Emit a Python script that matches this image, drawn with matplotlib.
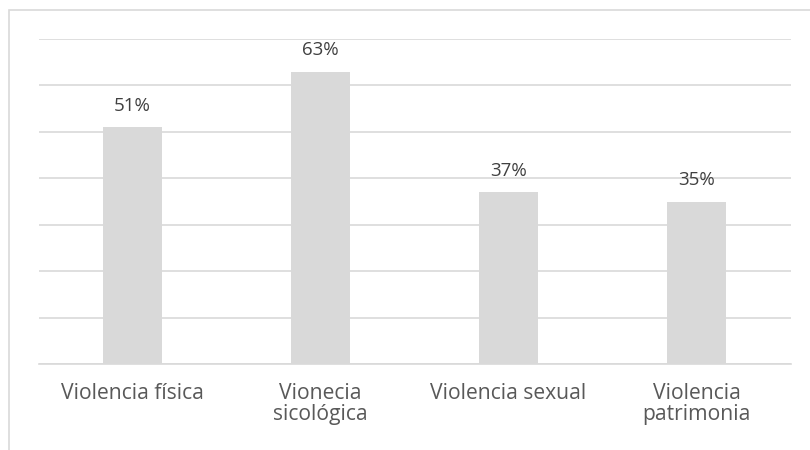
import matplotlib.pyplot as plt
from matplotlib.patches import Rectangle

# 数据
categories = ["Violencia física", "Vionecia\nsicológica", "Violencia sexual", "Violencia\npatrimonia"]
values = [51, 63, 37, 35]
value_labels = ["51%", "63%", "37%", "35%"]

plt.rcParams['font.family'] = ['Open Sans', 'DejaVu Sans']

fig = plt.figure(figsize=(8.1, 4.5), dpi=100)
ax = fig.add_axes([38.5 / 810, 1 - 364 / 450, 752 / 810, 325 / 450])

x = range(len(categories))
ax.bar(x, values, width=0.314, color='#d9d9d9', zorder=2)

for xi, v, lab in zip(x, values, value_labels):
    ax.annotate(lab, (xi, v), xytext=(0, 9), textcoords='offset points',
                ha='center', va='bottom', fontsize=13.5, color='#404040')

ax.set_xlim(-0.5, len(categories) - 0.5)
ax.set_ylim(0, 70)
ax.set_yticks(range(0, 71, 10))
ax.yaxis.grid(True, color='#d9d9d9', linewidth=1.2, zorder=0)
ax.tick_params(axis='y', left=False, labelleft=False)
ax.tick_params(axis='x', length=0, pad=13.5, labelsize=15.2, labelcolor='#595959')
ax.set_xticks(list(x))
ax.set_xticklabels(categories, va='top', linespacing=1.0)
for s in ['top', 'right', 'left']:
    ax.spines[s].set_visible(False)
ax.spines['bottom'].set_color('#d9d9d9')
ax.spines['bottom'].set_linewidth(1.2)

# 外框（部分超出画布）
fig.add_artist(Rectangle((9 / 810, -0.1), 2.0, 1 - 10 / 450 + 0.1,
                         transform=fig.transFigure, fill=False,
                         edgecolor='#d9d9d9', linewidth=1.2))

fig.savefig('out.png', dpi=100)
